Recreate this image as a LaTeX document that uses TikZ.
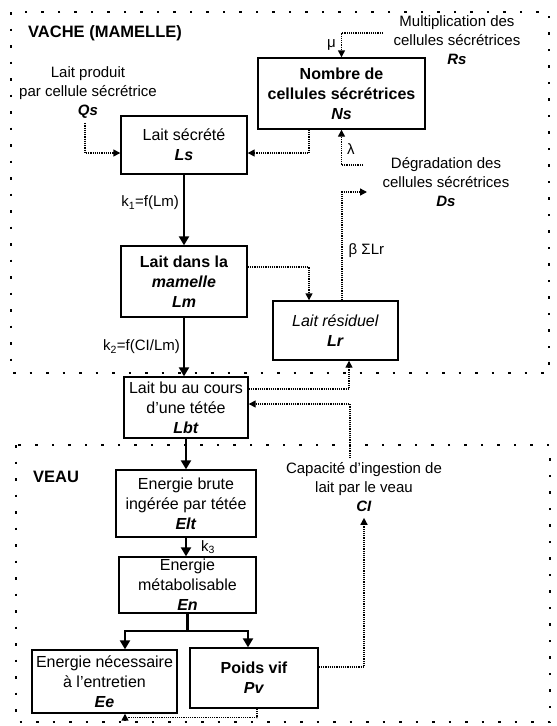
\documentclass[tikz,border=0pt]{standalone}
\usepackage{fontspec}
\setmainfont{Liberation Sans}
\usetikzlibrary{arrows.meta,calc}
\begin{document}
\begin{tikzpicture}[x=1pt,y=-1pt,
  box/.style={draw, line width=1.4pt, inner sep=0pt, align=center, font=\fontsize{16}{20}\selectfont},
  lbl/.style={inner sep=0pt, align=center, font=\fontsize{15}{19}\selectfont},
  ttl/.style={inner sep=0pt, anchor=west, font=\fontsize{16.5}{20}\selectfont\bfseries},
  flow/.style={line width=2.2pt, -{Triangle[width=10pt,length=9pt]}},
  dotarrow/.style={line width=1.4pt, dash pattern=on 1.2pt off 1pt, -{Triangle[width=7pt,length=7pt]}},
  zone/.style={line width=1.7pt, dash pattern=on 2.5pt off 14pt}]
\useasboundingbox (0,0) rectangle (557,726);

% frames
\draw[zone] (11,12) rectangle (549,373);
\draw[zone] (16,445) rectangle (550,722);
\node[ttl] (tV) at (28,33) {VACHE (MAMELLE)};
\node[ttl] (tC) at (33,477) {VEAU};

% boxes
\node[box, minimum width=126pt, minimum height=58pt] (Ls) at (184,145) {Lait sécrété\\\textbf{\textit{Ls}}};
\node[box, minimum width=167pt, minimum height=71pt] (Ns) at (341.5,93.5) {\textbf{Nombre de}\\\textbf{cellules sécrétrices}\\\textbf{\textit{Ns}}};
\node[box, minimum width=126pt, minimum height=71pt] (Lm) at (184,281.5) {\textbf{Lait dans la}\\\textbf{\textit{mamelle}}\\\textbf{\textit{Lm}}};
\node[box, minimum width=125pt, minimum height=59pt] (Lr) at (335.5,330.5) {\textit{Lait résiduel}\\\textbf{\textit{Lr}}};
\node[box, minimum width=124pt, minimum height=61pt] (Lbt) at (186,407.5) {Lait bu au cours\\d’une tétée\\\textbf{\textit{Lbt}}};
\node[box, minimum width=140pt, minimum height=67pt] (Elt) at (186,503.5) {Energie brute\\ingérée par tétée\\\textbf{\textit{Elt}}};
\node[box, minimum width=137pt, minimum height=56pt] (En) at (187.5,585) {Energie\\métabolisable\\\textbf{\textit{En}}};
\node[box, minimum width=145pt, minimum height=63pt] (Ee) at (104.5,681.5) {Energie nécessaire\\à l’entretien\\\textbf{\textit{Ee}}};
\node[box, minimum width=128pt, minimum height=60pt] (Pv) at (254,678) {\textbf{Poids vif}\\\textbf{\textit{Pv}}};

% external labels
\node[lbl] (Qs) at (88,93) {Lait produit\\par cellule sécrétrice\\\textbf{\textit{Qs}}};
\node[lbl] (Rs) at (457,40) {Multiplication des\\cellules sécrétrices\\\textbf{\textit{Rs}}};
\node[lbl] (Ds) at (446,182) {Dégradation des\\cellules sécrétrices\\\textbf{\textit{Ds}}};
\node[lbl] (CI) at (364,487) {Capacité d’ingestion de\\lait par le veau\\\textbf{\textit{CI}}};

\coordinate (muS) at (383,33);
\coordinate (lamS) at (363,165);
\coordinate (betaE) at (367,192);

% main flow
\draw[flow] (Ls.south) -- (Ls.south |- Lm.north) node[lbl, pos=0.4, left=4pt] {k\textsubscript{1}=f(Lm)};
\draw[flow] (Lm.south) -- (Lm.south |- Lbt.north) node[lbl, pos=0.5, left=3pt] {k\textsubscript{2}=f(CI/Lm)};
\draw[flow] (Lbt.south) -- (Lbt.south |- Elt.north);
\draw[flow] (Elt.south) -- (Elt.south |- En.north) node[lbl, pos=0.5, right=14pt] {k\textsubscript{3}};
\draw[line width=2.2pt] (En.south) -- ++(0,17) coordinate (br);
\draw[flow] (br) -| ([xshift=20.5pt]Ee.north);
\draw[flow] (br) -| ([xshift=-6pt]Pv.north);

% dotted connectors
\draw[dotarrow] ([xshift=-3pt,yshift=-4pt]Qs.south) |- ([yshift=-8pt]Ls.west);
\draw[dotarrow] ([xshift=-32.5pt]Ns.south) |- ([yshift=-8pt]Ls.east);
\draw[dotarrow] (muS) -| node[lbl, pos=0.75, left=5pt] {μ} (Ns.north);
\draw[dotarrow] (lamS) -| node[lbl, pos=0.72, right=5pt] {λ} (Ns.south);
\draw[dotarrow] ([xshift=6.5pt]Lr.north) |- node[lbl, pos=0.23, right=6pt] {β ΣLr} (betaE);
\draw[dotarrow] ([yshift=14.5pt]Lm.east) -| ([xshift=-26.5pt]Lr.north);
\draw[dotarrow] ([yshift=18.5pt]Lbt.east) -| ([xshift=13.5pt]Lr.south);
\draw[dotarrow] ([xshift=-14pt,yshift=4pt]CI.north) |- ([yshift=3.5pt]Lbt.east);
\draw[dotarrow] ([yshift=11pt]Pv.east) -| ([yshift=-6pt]CI.south);
\draw[dotarrow] ([xshift=3pt]Pv.south) -- ++(0,9) -| ([xshift=20.5pt]Ee.south);
\end{tikzpicture}
\end{document}
